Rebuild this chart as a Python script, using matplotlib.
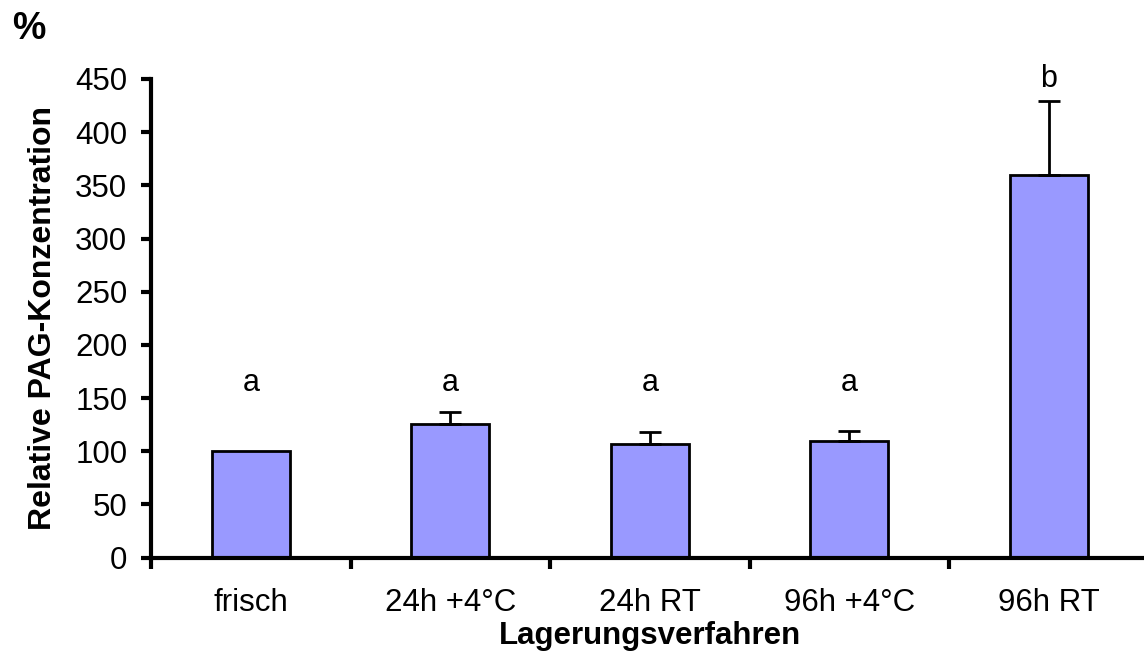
import numpy as np
import matplotlib
matplotlib.use("Agg")
import matplotlib.pyplot as plt

plt.rcParams.update({'font.family': ['Liberation Sans', 'DejaVu Sans'], 'font.size': 22.5})

kategorien = ["frisch", "24h +4°C", "24h RT", "96h +4°C", "96h RT"]
werte = [100, 126, 107, 110, 360]
fehler = [0, 11, 11, 9, 69]
buchstaben = ["a", "a", "a", "a", "b"]
buchstaben_y = [164, 164, 164, 164, 450]

fig = plt.figure(figsize=(11.44, 6.55), dpi=100)
ax = fig.add_axes([0.132, 0.1486, 0.872, 0.7308])

x = np.arange(len(kategorien))
ax.bar(x, werte, width=0.39, color='#9999FF', edgecolor='black', linewidth=2, zorder=2)
for i in range(len(x)):
    if fehler[i] > 0:
        ax.errorbar(x[i], werte[i], yerr=[[0], [fehler[i]]], fmt='none', ecolor='black',
                    elinewidth=2, capsize=8, capthick=2, zorder=3)
    ax.text(x[i], buchstaben_y[i], buchstaben[i], ha='center', va='center', fontsize=22)

ax.set_xlim(-0.5, 4.5)
ax.set_ylim(0, 450)
ax.set_yticks(np.arange(0, 451, 50))
ax.set_xticks(np.arange(-0.5, 4.6, 1.0))
ax.set_xticklabels([])
ax.set_xticks(x, minor=True)
ax.set_xticklabels(kategorien, minor=True)
ax.tick_params(axis='x', which='minor', length=0, pad=22)
ax.tick_params(axis='x', which='major', length=8, width=3, direction='out')
ax.tick_params(axis='y', length=7, width=3, direction='out', pad=10)

for s in ['top', 'right']:
    ax.spines[s].set_visible(False)
for s in ['left', 'bottom']:
    ax.spines[s].set_linewidth(3)

ax.set_ylabel("Relative PAG-Konzentration", fontweight='bold', fontsize=23, labelpad=12)
ax.set_xlabel("Lagerungsverfahren", fontweight='bold', fontsize=22.5, labelpad=2)
fig.text(0.011, 0.956, "%", fontweight='bold', fontsize=27, va='center')

fig.savefig("out.png", dpi=100)
